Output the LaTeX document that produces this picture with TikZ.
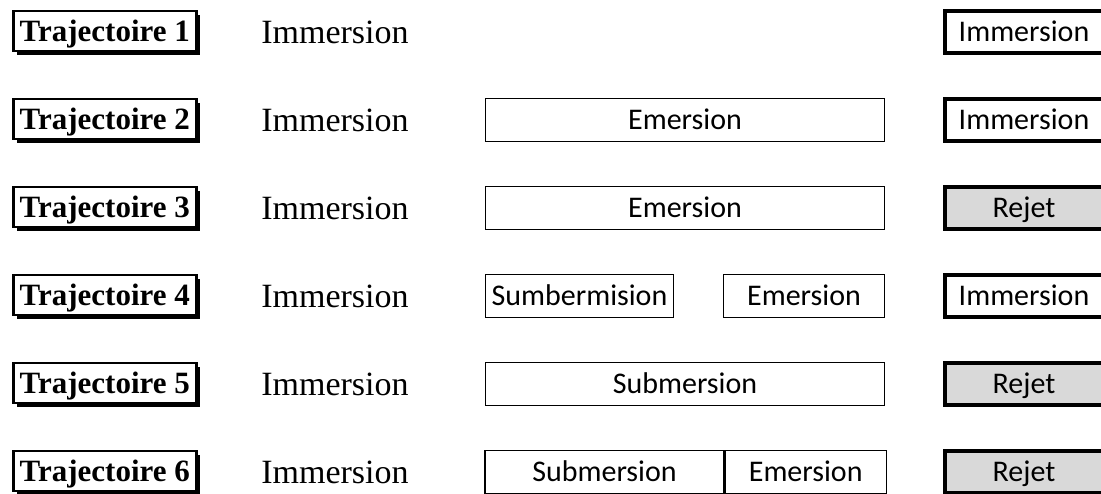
\documentclass[tikz,border=0pt]{standalone}
\usepackage{fontspec}
\setmainfont{Liberation Serif}
\newfontfamily\cali{Carlito}
\usepackage{tikz}
\usetikzlibrary{shapes, shadows}
\tikzstyle{traj} = [rectangle, draw, fill = white, line width = 2.5pt, minimum width = 183pt, minimum height = 40pt, inner sep = 0pt, text height = 21pt, text depth = 0pt, font = \fontsize{31}{36}\selectfont\bfseries, general shadow = {fill = black, shadow xshift = 3.75pt, shadow yshift = -3.75pt}]
\tikzstyle{texte} = [inner sep = 0pt, text height = 22pt, text depth = 0pt, font = \fontsize{34}{40}\selectfont]
\tikzstyle{etape} = [rectangle, draw, fill = white, line width = 1.2pt, minimum height = 43pt, inner sep = 0pt, text height = 19.5pt, text depth = 0pt, font = \cali\fontsize{30}{36}\selectfont, general shadow = {fill = black, shadow xshift = -0.8pt, shadow yshift = -0.8pt}]
\tikzstyle{fin} = [rectangle, draw, fill = white, line width = 3.5pt, minimum width = 158pt, minimum height = 42pt, inner sep = 0pt, text height = 19.5pt, text depth = 0pt, font = \cali\fontsize{30}{36}\selectfont]
\tikzstyle{rejet} = [fin, fill = black!15]

\begin{document}
\begin{tikzpicture}[x = 1pt, y = -1pt]
    \clip (0, 0) rectangle (1101, 493);
    \fill[white] (0, 0) rectangle (1101, 493);

    \node[traj] (t1) at (104.75, 31) {Trajectoire 1};
    \node[traj] (t2) at (104.75, 119) {Trajectoire 2};
    \node[traj] (t3) at (104.75, 207) {Trajectoire 3};
    \node[traj] (t4) at (104.75, 295) {Trajectoire 4};
    \node[traj] (t5) at (104.75, 383) {Trajectoire 5};
    \node[traj] (t6) at (104.75, 471) {Trajectoire 6};

    \node[texte] (im1) at (335, 32) {Immersion};
    \node[texte] (im2) at (335, 120) {Immersion};
    \node[texte] (im3) at (335, 208) {Immersion};
    \node[texte] (im4) at (335, 296) {Immersion};
    \node[texte] (im5) at (335, 384) {Immersion};
    \node[texte] (im6) at (335, 472) {Immersion};

    \node[etape, minimum width = 399pt] (em2) at (685, 120) {Emersion};
    \node[etape, minimum width = 399pt] (em3) at (685, 208) {Emersion};
    \node[etape, minimum width = 188pt] (sub4) at (579.5, 296) {Sumbermision};
    \node[etape, minimum width = 161pt] (em4) at (804, 296) {Emersion};
    \node[etape, minimum width = 399pt] (sub5) at (685, 384) {Submersion};
    \node[etape, minimum width = 239pt] (sub6) at (604.5, 472) {Submersion};
    \node[etape, minimum width = 161pt, anchor = west] (em6) at (sub6.east) {Emersion};

    \node[fin] (f1) at (1024, 32) {Immersion};
    \node[fin] (f2) at (1024, 120) {Immersion};
    \node[rejet] (f3) at (1024, 208) {Rejet};
    \node[fin] (f4) at (1024, 296) {Immersion};
    \node[rejet] (f5) at (1024, 384) {Rejet};
    \node[rejet] (f6) at (1024, 472) {Rejet};
\end{tikzpicture}
\end{document}
